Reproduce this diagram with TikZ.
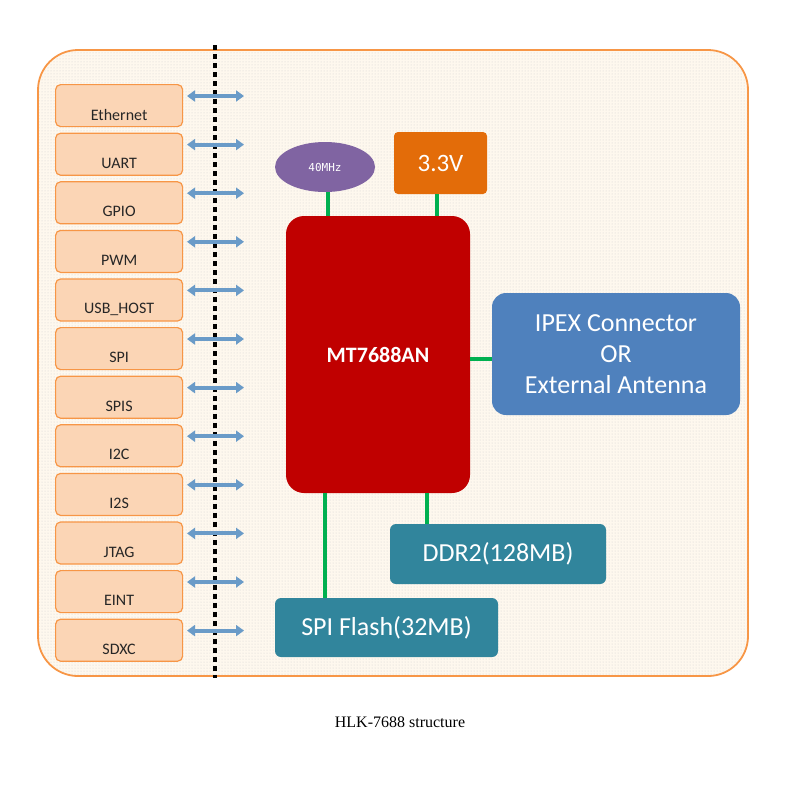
\documentclass[tikz,border=0pt]{standalone}
\usepackage{fontspec}
\setmainfont{Carlito}
\newfontfamily\capfont{Liberation Serif}
\newfontfamily\monofont{DejaVu Sans Mono}
\usetikzlibrary{arrows.meta,patterns,shapes.geometric}
\definecolor{org}{HTML}{F79646}
\definecolor{lorg}{HTML}{FBD5B5}
\definecolor{cream}{HTML}{FEF8EE}
\definecolor{arr}{HTML}{6A9BC8}
\definecolor{grn}{HTML}{00B050}
\definecolor{purp}{HTML}{8064A2}
\definecolor{dorg}{HTML}{E36C09}
\definecolor{dred}{HTML}{C00000}
\definecolor{blu}{HTML}{4F81BD}
\definecolor{teal}{HTML}{31859C}
\begin{document}
\begin{tikzpicture}[x=1pt,y=-1pt,
 iface/.style={draw=org,line width=1.2pt,fill=lorg,rounded corners=5pt,minimum width=127pt,minimum height=42pt,inner sep=0pt,font=\fontsize{16}{16}\selectfont,text=black!85},
 darr/.style={arr,line width=4pt,{Triangle[width=11pt,length=8pt]}-{Triangle[width=11pt,length=8pt]}},
 link/.style={grn,line width=4pt},
 blk/.style={rounded corners=8pt,text=white,align=center,inner sep=0pt}]
\useasboundingbox (0,0) rectangle (799,785);
\fill[white] (0,0) rectangle (799,785);
\draw[org,line width=1.8pt,fill=cream,rounded corners=40pt] (38,50) rectangle (748,676);
\fill[pattern=dots,pattern color=black!18,rounded corners=40pt] (39,51) rectangle (747,675);
\draw[line width=3.5pt,dash pattern=on 5pt off 4pt] (215,45) -- (215,678);
\foreach \t [count=\i from 0] in {Ethernet,UART,GPIO,PWM,USB\_HOST,SPI,SPIS,I2C,I2S,JTAG,EINT,SDXC}{
  \node[iface,anchor=north west,text depth=0pt] (b\i) at (55,{84+48.6*\i}) {};
  \node at ([yshift=-9pt]b\i.center) (t\i) {\fontsize{16}{16}\selectfont\color{black!85}\t};
  \coordinate (aL\i) at (187,{96+48.6*\i});
  \coordinate (aR\i) at (244,{96+48.6*\i});
  \draw[darr] (aL\i) -- (aR\i);
}
\node[blk,fill=dred,minimum width=184pt,minimum height=277pt,rounded corners=18pt,font=\bfseries\fontsize{22}{22}\selectfont] (mt) at (378,354.5) {MT7688AN};
\node[ellipse,fill=purp,minimum width=100pt,minimum height=50pt,inner sep=0pt,text=white,font=\monofont\fontsize{11}{11}\selectfont] (osc) at (325,167) {40MHz};
\node[blk,fill=dorg,minimum width=93pt,minimum height=62pt,rounded corners=4pt,font=\fontsize{25}{25}\selectfont] (pw) at (440.5,163) {3.3V};
\node[blk,fill=blu,minimum width=248pt,minimum height=122pt,rounded corners=14pt,font=\fontsize{26}{31}\selectfont] (ipex) at (616,354) {IPEX Connector\\OR\\External Antenna};
\node[blk,fill=teal,minimum width=216pt,minimum height=60pt,rounded corners=6pt,font=\fontsize{26}{26}\selectfont] (ddr) at (498,554) {DDR2(128MB)};
\node[blk,fill=teal,minimum width=223pt,minimum height=59pt,rounded corners=6pt,font=\fontsize{26}{26}\selectfont] (spi) at (386.5,627.5) {SPI Flash(32MB)};
\draw[link] (328,192) -- (328,216);
\draw[link] (437,194) -- (437,216);
\draw[link] (mt.east |- 0,359) -- (ipex.west |- 0,359);
\draw[link] (427,493) -- (ddr.north -| 427,0);
\draw[link] (325,493) -- (spi.north -| 325,0);
\node[font=\capfont\fontsize{16}{16}\selectfont] (cap) at (400,722) {HLK-7688 structure};
\end{tikzpicture}
\end{document}
